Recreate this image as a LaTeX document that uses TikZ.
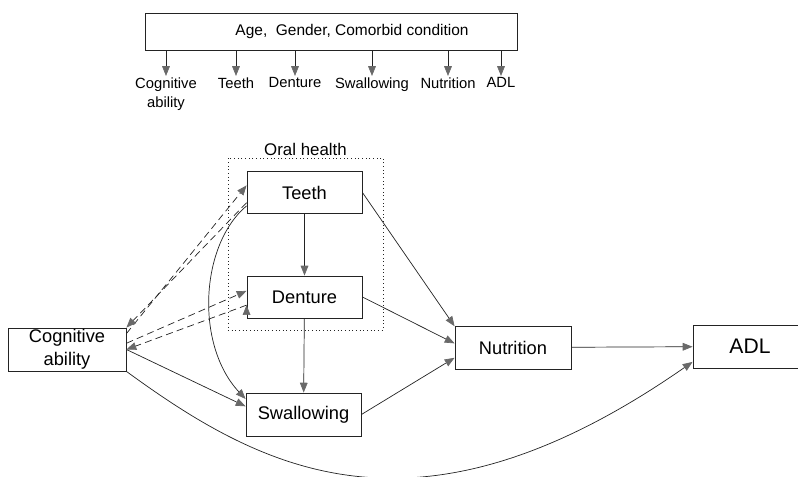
\documentclass[tikz,border=0pt]{standalone}
\usepackage{fontspec}
\setmainfont{Liberation Sans}
\usepackage{xcolor}
\definecolor{tipgray}{RGB}{105,105,105}
\definecolor{linegray}{RGB}{35,35,35}
\usepackage{tikz}
\usetikzlibrary{arrows.meta, calc}

\tikzset{
  box/.style={draw=linegray, line width=0.6pt, minimum width=2.875cm,
    minimum height=1.05cm, inner sep=1pt, align=center,
    font=\fontsize{13}{16}\selectfont},
  lbl/.style={anchor=north, inner sep=1pt, align=center,
    font=\fontsize{10.5}{13.5}\selectfont},
  arr/.style={draw=linegray, line width=0.5pt,
    -{Triangle[length=7pt,width=5.5pt,color=tipgray]}},
  dasharr/.style={arr, dash pattern=on 5pt off 3pt},
}

\begin{document}
\begin{tikzpicture}[x=0.025cm, y=-0.025cm]
  \path[use as bounding box, clip] (0,0) rectangle (798,477);
  \node[draw=linegray, line width=0.6pt, minimum width=9.3cm,
    minimum height=0.925cm] (conf) at (331,31.5) {};
  \node[font=\fontsize{11}{13}\selectfont] (conftxt) at (352,31.5)
    {Age,\ \ Gender, Comorbid condition};
  \node[lbl] (c-cog) at (166,76) {Cognitive\\ability};
  \node[lbl] (c-teeth) at (236,76) {Teeth};
  \node[lbl] (c-denture) at (295,76) {Denture};
  \node[lbl] (c-swal) at (372,76) {Swallowing};
  \node[lbl] (c-nutr) at (448,76) {Nutrition};
  \node[lbl] (c-adl) at (501,76) {ADL};
  \foreach \n in {c-cog,c-teeth,c-denture,c-swal,c-nutr,c-adl}
    \draw[arr] (conf.south -| \n.north) -- (\n.north);

  \node[box] (teeth) at (304.5,192.5) {Teeth};
  \node[box] (denture) at (304.5,297) {Denture};
  \node[box, minimum height=1.075cm] (swal) at (303.5,414.5) {Swallowing};
  \node[box, minimum width=2.95cm, minimum height=1.075cm] (cog) at (67,349.5)
    {Cognitive\\ability};
  \node[box, minimum width=2.9cm, minimum height=1.075cm] (nutr) at (513,347.5)
    {Nutrition};
  \node[box, minimum width=2.85cm, minimum height=1.075cm,
    font=\fontsize{15}{18}\selectfont] (adl) at (750,346.5) {ADL};
  \node[draw=linegray, dotted, line width=0.6pt, minimum width=3.875cm,
    minimum height=4.3cm] (oral) at (305.5,244) {};
  \node[anchor=south, inner sep=1pt, font=\fontsize{12}{14}\selectfont]
    (oraltxt) at (oral.north) {Oral health};

  \path[arr]
    (teeth) edge (denture)
    (denture) edge (swal)
    (teeth.east) edge (nutr.160)
    (denture.east) edge (nutr.176)
    (swal.east) edge (nutr.190)
    (nutr) edge (adl)
    (cog.east) edge (swal.172)
    (cog.15) edge[dasharr] (teeth.173)
    (teeth.190) edge[dasharr] (cog.north east)
    (cog.6) edge[dasharr] (denture.174)
    (denture.188) edge[dasharr] (cog.east)
    ;
  \draw[arr] (teeth.193) .. controls (200,245) and (195,345) .. (swal.165);
  \draw[arr] (cog.south east) .. controls (263,471) and (418,553) .. (adl.195);
\end{tikzpicture}
\end{document}
